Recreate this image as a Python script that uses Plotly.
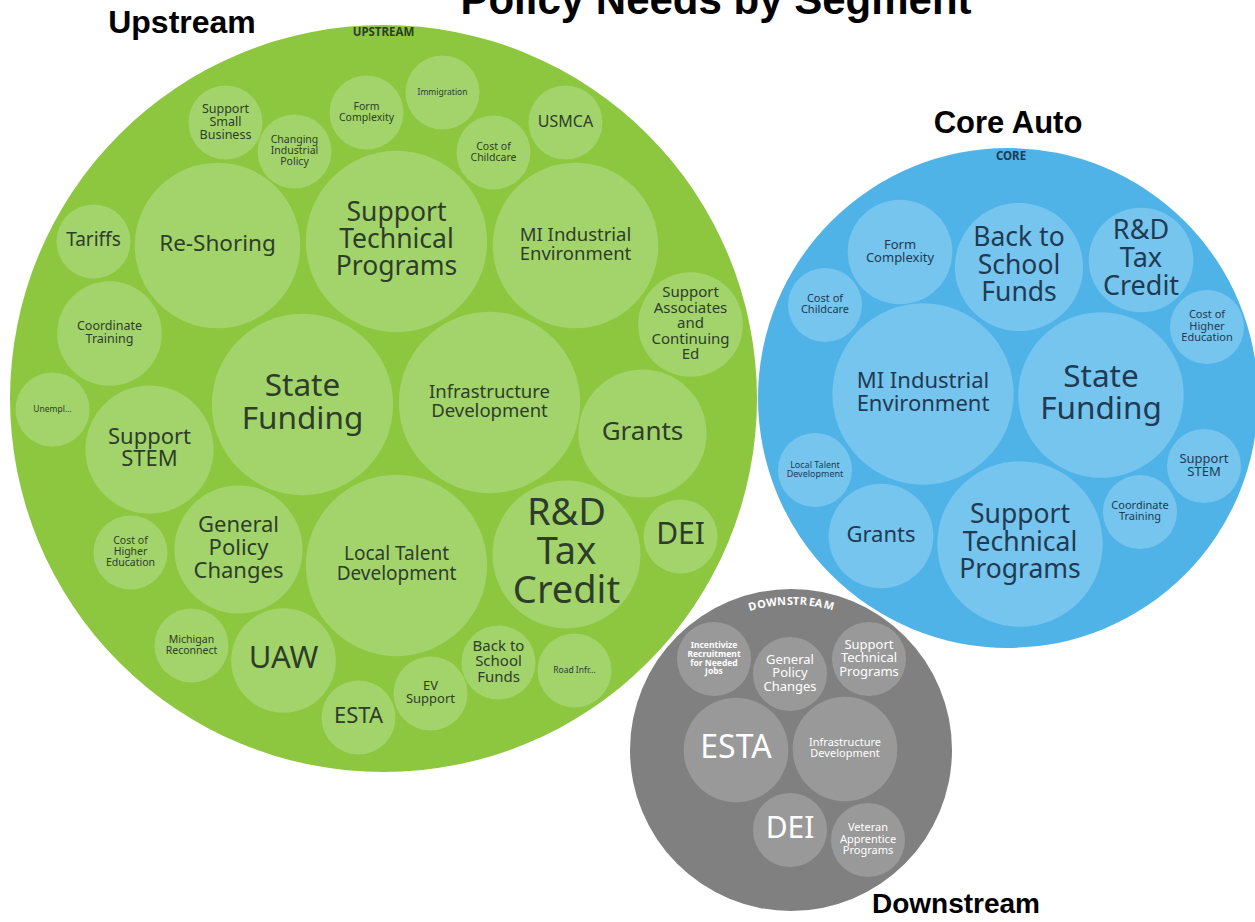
import numpy as np
import plotly.graph_objects as go

# -----------------------
# data: policy needs (mentions) per segment
# -----------------------
segments = ["Upstream", "Core Auto", "Downstream"]
segment_tags = ["UPSTREAM", "CORE", "DOWNSTREAM"]
title = "Policy Needs by Segment"

upstream_labels = [
    "Support\nSmall\nBusiness", "Changing\nIndustrial\nPolicy", "Form\nComplexity", "Immigration", "USMCA",
    "Cost of\nChildcare", "Re-Shoring", "Support\nTechnical\nPrograms", "MI Industrial\nEnvironment", "Tariffs",
    "Coordinate\nTraining", "Support\nAssociates\nand\nContinuing\nEd", "Unempl…", "State\nFunding",
    "Infrastructure\nDevelopment", "Grants", "Support\nSTEM", "Cost of\nHigher\nEducation",
    "General\nPolicy\nChanges", "Local Talent\nDevelopment", "R&D\nTax\nCredit", "DEI", "Michigan\nReconnect",
    "UAW", "ESTA", "EV\nSupport", "Back to\nSchool\nFunds", "Road Infr…",
]
upstream_counts = [1, 1, 1, 1, 1, 1, 5, 6, 5, 1, 2, 2, 1, 6, 6, 3, 3, 1, 3, 6, 4, 1, 1, 2, 1, 1, 1, 1]

core_labels = [
    "Form\nComplexity", "Back to\nSchool\nFunds", "R&D\nTax\nCredit", "Cost of\nChildcare",
    "Cost of\nHigher\nEducation", "MI Industrial\nEnvironment", "State\nFunding", "Local Talent\nDevelopment",
    "Grants", "Support\nTechnical\nPrograms", "Coordinate\nTraining", "Support\nSTEM",
]
core_counts = [2, 3, 2, 1, 1, 6, 5, 1, 2, 5, 1, 1]

downstream_labels = [
    "Incentivize\nRecruitment\nfor Needed\nJobs", "General\nPolicy\nChanges", "Support\nTechnical\nPrograms",
    "ESTA", "Infrastructure\nDevelopment", "DEI", "Veteran\nApprentice\nPrograms",
]
downstream_counts = [1, 1, 1, 2, 2, 1, 1]

# -----------------------
# layout: packing (px offsets from parent centre) and styles
# -----------------------
R_UNIT = 37.0  # radius of a single-mention bubble
SEG_CENTER = [(383.5, 398.5), (1008, 398), (791, 750)]
SEG_RADIUS = [373.5, 250, 161]
NAME_POS = [(182, 25), (1008, 125), (956, 906)]
NAME_SIZE = [32, 31, 28]

up_pack = [(-158, -276), (-89, -247), (-17, -286), (59, -306), (182, -276), (110, -246), (-166, -153),
           (13, -157), (192, -153), (-290, -157), (-274, -65), (307, -74), (-331, 11), (-81, 6), (106, 4),
           (259, 35), (-234, 51), (-253, 154), (-145, 151), (13, 167), (183, 156), (297, 138), (-192, 247),
           (-100, 262), (-25, 319), (47, 295), (115, 264), (191, 272)]
up_font = [12.5, 10.5, 10.5, 8.5, 16, 10.5, 22.5, 26.5, 18.5, 19, 12.5, 15, 8.5, 31.5, 18.5, 26, 22, 10.5,
           22, 19, 38, 30, 10.5, 31, 22, 13, 15, 8.5]

core_pack = [(-108, -146), (11, -131), (133, -138), (-183, -93), (199, -71), (-85, -4), (93, -3),
             (-193, 72), (-127, 138), (12, 146), (132, 114), (196, 68)]
core_font = [13, 26.5, 27, 11, 11, 22, 31.5, 9, 22, 26.5, 11, 13]

down_pack = [(-77, -91), (-1, -76), (78, -91), (-55, 0), (54, -1), (-1, 80), (77, 90)]
down_font = [8.5, 13, 13, 32, 11, 30, 11]
down_bold = [True, False, False, False, False, False, False]

OUTER = ["#8DC63F", "#4FB3E7", "#808080"]
INNER = ["#A3D46B", "#76C5EE", "#999999"]
TEXT = ["#2E3D2A", "#1F3A52", "#FFFFFF"]
FONT = "Noto Sans"
HEAD = "Liberation Sans, Arial"

seg_labels = [upstream_labels, core_labels, downstream_labels]
seg_counts = [upstream_counts, core_counts, downstream_counts]
seg_pack = [up_pack, core_pack, down_pack]
seg_font = [up_font, core_font, down_font]
seg_bold = [[False] * len(upstream_labels), [False] * len(core_labels), down_bold]

fig = go.Figure()
shapes = []
annotations = []

for s in range(3):
    cx, cy = SEG_CENTER[s]
    R = SEG_RADIUS[s]
    shapes.append(dict(type="circle", xref="x", yref="y", x0=cx - R, x1=cx + R, y0=cy - R, y1=cy + R,
                       fillcolor=OUTER[s], line_width=0, layer="below"))
    tx = {False: ([], [], [], []), True: ([], [], [], [])}
    for lab, cnt, (dx, dy), fs, b in zip(seg_labels[s], seg_counts[s], seg_pack[s], seg_font[s], seg_bold[s]):
        r = R_UNIT * np.sqrt(cnt)
        bx, by = cx + dx, cy + dy
        shapes.append(dict(type="circle", xref="x", yref="y", x0=bx - r, x1=bx + r, y0=by - r, y1=by + r,
                           fillcolor=INNER[s], line_width=0, layer="below"))
        lines = lab.split("\n")
        n = len(lines)
        for i, ln in enumerate(lines):
            tx[b][0].append(bx)
            tx[b][1].append(by + (i - (n - 1) / 2) * fs * 1.03)
            tx[b][2].append(ln)
            tx[b][3].append(fs)
    for b in (False, True):
        xs, ys, ts, sz = tx[b]
        if not xs:
            continue
        fig.add_trace(go.Scatter(
            x=xs, y=ys, text=ts, mode="text", textposition="middle center",
            textfont=dict(family=FONT, size=sz, color=TEXT[s], weight=700 if b else 400),
            hoverinfo="skip", showlegend=False, cliponaxis=False,
        ))

# segment tags at the top of each big circle
fig.add_trace(go.Scatter(
    x=[SEG_CENTER[0][0], SEG_CENTER[1][0] + 3],
    y=[SEG_CENTER[0][1] - SEG_RADIUS[0] + 8, SEG_CENTER[1][1] - SEG_RADIUS[1] + 9],
    text=segment_tags[:2], mode="text", textposition="middle center",
    textfont=dict(family=FONT, size=11.5, color=[TEXT[0], TEXT[1]], weight=700),
    hoverinfo="skip", showlegend=False, cliponaxis=False,
))

# curved DOWNSTREAM tag
widths = {"D": .743, "O": .797, "W": .993, "N": .779, "S": .562, "T": .579, "R": .648, "E": .556,
          "A": .695, "M": .956}
tag = segment_tags[2]
fs_tag = 11
track = 0.7
w = np.array([widths[c] * fs_tag + track for c in tag])
centers = np.cumsum(w) - w / 2 - w.sum() / 2
r_txt = 150
cx, cy = SEG_CENTER[2]
for c, off in zip(tag, centers):
    th = off / r_txt
    annotations.append(dict(
        x=cx + r_txt * np.sin(th), y=cy - r_txt * np.cos(th), xref="x", yref="y",
        text=c, showarrow=False, textangle=float(np.degrees(th)),
        font=dict(family=FONT, size=fs_tag, color="#FFFFFF", weight=700),
        xanchor="center", yanchor="middle",
    ))

# segment names and title
fig.add_trace(go.Scatter(
    x=[p[0] for p in NAME_POS] + [716], y=[p[1] for p in NAME_POS] + [3],
    text=segments + [title], mode="text", textposition="middle center",
    textfont=dict(family=HEAD, size=NAME_SIZE + [42], color="black", weight=700),
    hoverinfo="skip", showlegend=False, cliponaxis=False,
))

fig.update_layout(
    width=1255, height=922, autosize=False,
    margin=dict(l=0, r=0, t=0, b=0),
    paper_bgcolor="white", plot_bgcolor="white",
    xaxis=dict(range=[0, 1255], visible=False, fixedrange=True),
    yaxis=dict(range=[922, 0], visible=False, fixedrange=True),
    shapes=shapes, annotations=annotations,
)

fig.write_html("out.html", config={"displayModeBar": False},
               post_script="document.body.style.margin='0';document.body.style.overflow='hidden';")
